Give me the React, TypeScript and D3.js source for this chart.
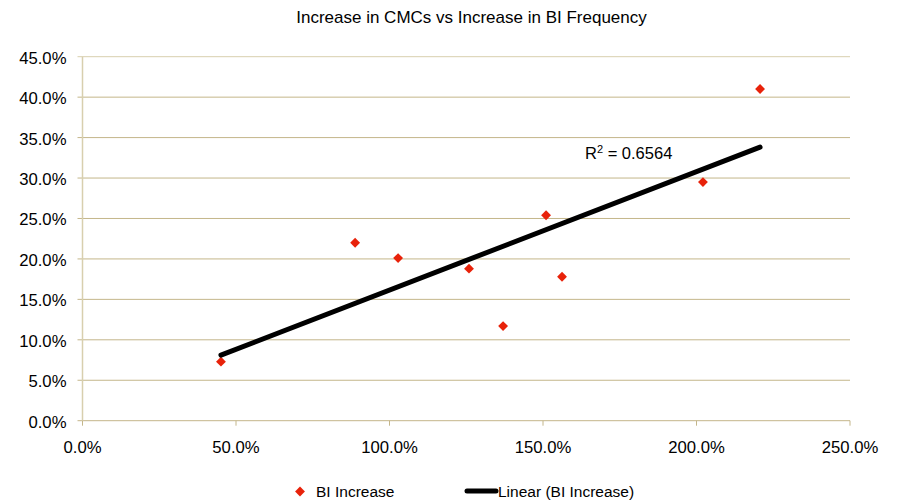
import React from "react";
import * as d3 from "d3";

const xValues = [45.1, 88.8, 102.8, 125.9, 137.0, 151.0, 156.2, 202.1, 220.7];
const yValues = [7.3, 22.0, 20.1, 18.8, 11.7, 25.4, 17.8, 29.5, 41.0];
const xTicks = [0, 50, 100, 150, 200, 250];
const yTicks = [0, 5, 10, 15, 20, 25, 30, 35, 40, 45];
const title = "Increase in CMCs vs Increase in BI Frequency";
const seriesName = "BI Increase";
const trendName = "Linear (BI Increase)";
const r2Label = "0.6564";

const W = 901;
const H = 502;
const left = 82.5;
const right = 850;
const top = 56.7;
const bottom = 420.7;
const font = "'Liberation Sans', Arial, sans-serif";
const gridColor = "#C4B68A";
const red = "#E8220A";

export default function App() {
  const x = d3.scaleLinear().domain([0, 250]).range([left, right]);
  const y = d3.scaleLinear().domain([0, 45]).range([bottom, top]);

  const n = xValues.length;
  const mx = d3.mean(xValues)!;
  const my = d3.mean(yValues)!;
  let sxy = 0, sxx = 0;
  for (let i = 0; i < n; i++) {
    sxy += (xValues[i] - mx) * (yValues[i] - my);
    sxx += (xValues[i] - mx) ** 2;
  }
  const slope = sxy / sxx;
  const intercept = my - slope * mx;
  const x0 = d3.min(xValues)!;
  const x1 = d3.max(xValues)!;
  const line = d3.line<number>().x((d) => x(d)).y((d) => y(slope * d + intercept));
  const diamond = d3.symbol().type(d3.symbolDiamond2).size(62)();

  return (
    <svg width={W} height={H} style={{ position: "absolute", left: 0, top: 0, background: "#fff" }} fontFamily={font}>
      <text x={471.5} y={22.5} textAnchor="middle" fontSize={17} fill="#000">{title}</text>
      {yTicks.map((t) => (
        <g key={"y" + t}>
          <line x1={left - 5} x2={right} y1={y(t)} y2={y(t)} stroke={t === 45 ? "#D8CFAE" : gridColor} strokeWidth={1} />
          <text x={left - 16} y={y(t) + 7} textAnchor="end" fontSize={16.7} fill="#000">{t.toFixed(1)}%</text>
        </g>
      ))}
      <line x1={left} x2={left} y1={top} y2={bottom} stroke="#D8CFAE" strokeWidth={1.5} />
      {xTicks.map((t) => (
        <g key={"x" + t}>
          <line x1={x(t)} x2={x(t)} y1={bottom} y2={bottom + 5} stroke={gridColor} />
          <text x={x(t)} y={452.5} textAnchor="middle" fontSize={16.7} fill="#000">{t.toFixed(1)}%</text>
        </g>
      ))}
      {xValues.map((v, i) => (
        <path key={i} d={diamond!} transform={`translate(${x(v)},${y(yValues[i])})`} fill={red} />
      ))}
      <path d={line([x0, x1])!} stroke="#000" strokeWidth={5} strokeLinecap="round" fill="none" />
      <text x={585} y={159} fontSize={16.5} fill="#000">
        R<tspan dy={-6} fontSize={11}>2</tspan><tspan dy={6}> = {r2Label}</tspan>
      </text>
      <path d={diamond!} transform="translate(300,491.5)" fill={red} />
      <text x={316} y={496.7} fontSize={15.5} fill="#000">{seriesName}</text>
      <line x1={467} x2={496} y1={491} y2={491} stroke="#000" strokeWidth={5} strokeLinecap="round" />
      <text x={498} y={496.7} fontSize={15.5} fill="#000">{trendName}</text>
    </svg>
  );
}
